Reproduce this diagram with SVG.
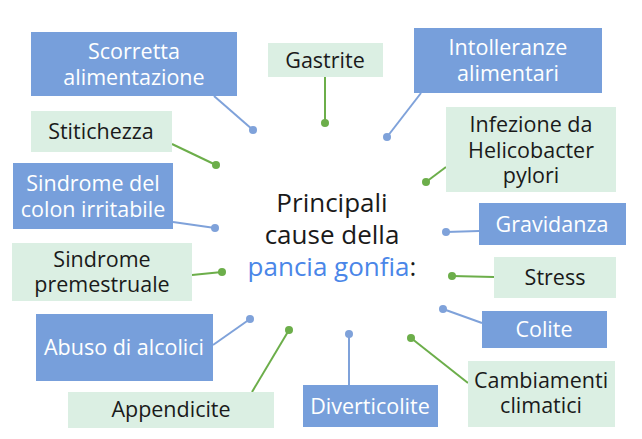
<svg xmlns="http://www.w3.org/2000/svg" width="642" height="439" viewBox="0 0 642 439">
<style>
.b{fill:#779fdb}
.g{fill:#dbefe3}
.tw{font-family:"Open Sans","Noto Sans",sans-serif;font-size:21.5px;fill:#ffffff;text-anchor:middle}
.tk{font-family:"Open Sans","Noto Sans",sans-serif;font-size:21.5px;fill:#1a1a1a;text-anchor:middle}
.lb{stroke:#7fa2da;stroke-width:2;fill:none}
.lg{stroke:#6cae4a;stroke-width:2;fill:none}
.db{fill:#7fa2da}
.dg{fill:#6cae4a}
.c{font-family:"Open Sans","Noto Sans",sans-serif;font-size:26px;fill:#1a1a1a;text-anchor:middle}
</style>
<rect width="642" height="439" fill="#ffffff"/>
<g id="connectors">
<line class="lb" x1="214" y1="96" x2="253" y2="130"/><circle class="db" cx="253" cy="130" r="4"/>
<line class="lg" x1="325" y1="77" x2="325" y2="123"/><circle class="dg" cx="325" cy="123" r="4"/>
<line class="lb" x1="421" y1="93" x2="387" y2="137"/><circle class="db" cx="387" cy="137" r="4"/>
<line class="lg" x1="446" y1="167" x2="426" y2="182"/><circle class="dg" cx="426" cy="182" r="4"/>
<line class="lg" x1="172" y1="144" x2="216" y2="165"/><circle class="dg" cx="216" cy="165" r="4"/>
<line class="lb" x1="173" y1="222" x2="215" y2="228"/><circle class="db" cx="215" cy="228" r="4"/>
<line class="lg" x1="192" y1="275" x2="222" y2="272"/><circle class="dg" cx="222" cy="272" r="4"/>
<line class="lb" x1="213" y1="345" x2="250" y2="319"/><circle class="db" cx="250" cy="319" r="4"/>
<line class="lg" x1="252" y1="392" x2="289" y2="330"/><circle class="dg" cx="289" cy="330" r="4"/>
<line class="lb" x1="349" y1="385" x2="349" y2="334"/><circle class="db" cx="349" cy="334" r="4"/>
<line class="lb" x1="479" y1="231" x2="446" y2="232"/><circle class="db" cx="446" cy="232" r="4"/>
<line class="lg" x1="494" y1="277" x2="452" y2="276"/><circle class="dg" cx="452" cy="276" r="4"/>
<line class="lb" x1="482" y1="323" x2="443" y2="309"/><circle class="db" cx="443" cy="309" r="4"/>
<line class="lg" x1="468" y1="383" x2="411" y2="338"/><circle class="dg" cx="411" cy="338" r="4"/>
</g>
<g id="center">
<text class="c" x="332" y="212">Principali</text>
<text class="c" x="332" y="244">cause della</text>
<text class="c" x="332" y="276"><tspan fill="#4a86e8">pancia gonfia</tspan>:</text>
</g>
<g id="scorretta"><rect class="b" x="31" y="32" width="206" height="64"/><text class="tw" x="134" y="59">Scorretta</text><text class="tw" x="134" y="85">alimentazione</text></g>
<g id="gastrite"><rect class="g" x="268" y="43" width="115" height="34"/><text class="tk" x="325" y="68">Gastrite</text></g>
<g id="intolleranze"><rect class="b" x="414" y="28" width="188" height="65"/><text class="tw" x="508" y="55">Intolleranze</text><text class="tw" x="508" y="81">alimentari</text></g>
<g id="infezione"><rect class="g" x="446" y="107" width="170" height="85"/><text class="tk" x="531" y="132">Infezione da</text><text class="tk" x="531" y="158">Helicobacter</text><text class="tk" x="531" y="183">pylori</text></g>
<g id="stitichezza"><rect class="g" x="31" y="111" width="141" height="41"/><text class="tk" x="101" y="138.5">Stitichezza</text></g>
<g id="sindrome-colon"><rect class="b" x="13" y="163" width="160" height="66"/><text class="tw" x="93" y="191">Sindrome del</text><text class="tw" x="93" y="217">colon irritabile</text></g>
<g id="sindrome-premestruale"><rect class="g" x="12" y="243" width="180" height="58"/><text class="tk" x="102" y="267">Sindrome</text><text class="tk" x="102" y="292">premestruale</text></g>
<g id="abuso"><rect class="b" x="36" y="314" width="177" height="67"/><text class="tw" x="124" y="355">Abuso di alcolici</text></g>
<g id="appendicite"><rect class="g" x="68" y="392" width="206" height="36"/><text class="tk" x="171" y="417">Appendicite</text></g>
<g id="diverticolite"><rect class="b" x="303" y="385" width="135" height="42"/><text class="tw" x="370" y="414">Diverticolite</text></g>
<g id="gravidanza"><rect class="b" x="479" y="203" width="147" height="42"/><text class="tw" x="552" y="232">Gravidanza</text></g>
<g id="stress"><rect class="g" x="494" y="257" width="122" height="41"/><text class="tk" x="555" y="285">Stress</text></g>
<g id="colite"><rect class="b" x="482" y="311" width="125" height="37"/><text class="tw" x="544" y="337">Colite</text></g>
<g id="cambiamenti"><rect class="g" x="468" y="361" width="147" height="66"/><text class="tk" x="541" y="388">Cambiamenti</text><text class="tk" x="541" y="413">climatici</text></g>
</svg>
